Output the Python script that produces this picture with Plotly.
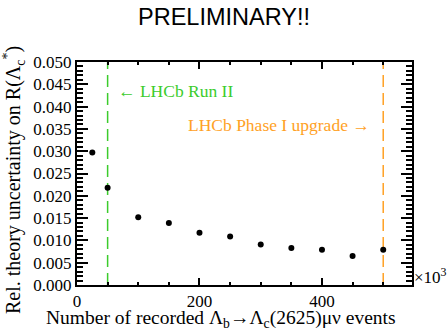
import plotly.graph_objects as go

events_k = [25, 50, 100, 150, 200, 250, 300, 350, 400, 450, 500]
rel_unc = [0.0297, 0.0218, 0.0152, 0.0139, 0.0117, 0.0109, 0.0091, 0.0083, 0.0079, 0.0065, 0.0079]
run2_x = 50
phase1_x = 500
x_ticks = [0, 200, 400]
y_ticks = [0.000, 0.005, 0.010, 0.015, 0.020, 0.025, 0.030, 0.035, 0.040, 0.045, 0.050]

GREEN = "#3ccc2c"
ORANGE = "#ffa125"
SERIF = "Liberation Serif"

W, H = 448, 331
L, R, T, B = 77, 36, 62, 46
plot_w = W - L - R
plot_h = H - T - B

fig = go.Figure()
fig.add_trace(go.Scatter(x=[run2_x, run2_x], y=[0, 0.05], mode="lines",
                         line=dict(color=GREEN, width=1.5, dash="12px,6px"),
                         showlegend=False, hoverinfo="skip"))
fig.add_trace(go.Scatter(x=[phase1_x, phase1_x], y=[0, 0.05], mode="lines",
                         line=dict(color=ORANGE, width=1.5, dash="12px,6px"),
                         showlegend=False, hoverinfo="skip"))
fig.add_trace(go.Scatter(x=events_k, y=rel_unc, mode="markers",
                         marker=dict(color="black", size=6),
                         showlegend=False))

axis_common = dict(showgrid=False, zeroline=False, showline=True, linecolor="black",
                   linewidth=2, mirror="ticks", ticks="inside", tickcolor="black",
                   tickwidth=1.5, tickfont=dict(family=SERIF, size=17, color="black"))

fig.update_xaxes(range=[0, 547], tickvals=x_ticks, ticktext=[str(v) for v in x_ticks],
                 ticklen=7,
                 minor=dict(dtick=50, tick0=0, ticklen=3, ticks="inside", tickcolor="black", tickwidth=1.5),
                 **axis_common)
fig.update_yaxes(range=[0, 0.05], tickvals=y_ticks, ticktext=[f"{v:.3f}" for v in y_ticks],
                 ticklen=11,
                 minor=dict(dtick=0.001, tick0=0, ticklen=6, ticks="inside", tickcolor="black", tickwidth=1.5),
                 **axis_common)

fig.update_layout(
    width=W, height=H,
    margin=dict(l=L, r=R, t=T, b=B),
    paper_bgcolor="white", plot_bgcolor="white",
    title=dict(text="PRELIMINARY!!", x=0.5, xanchor="center", y=1 - 17 / H, yanchor="middle",
               font=dict(family="Liberation Sans", size=23.5, color="black")),
    annotations=[
        dict(text="\u2190 LHCb Run II", x=63, y=0.0436, xref="x", yref="y",
             xanchor="left", yanchor="middle", showarrow=False,
             font=dict(family=SERIF, size=17.5, color=GREEN)),
        dict(text="LHCb Phase I upgrade \u2192", x=482, y=0.0359, xref="x", yref="y",
             xanchor="right", yanchor="middle", showarrow=False,
             font=dict(family=SERIF, size=17.5, color=ORANGE)),
        dict(text="\u00d710<sup>3</sup>", x=1.0, y=(285 - 276) / plot_h, xref="paper", yref="paper",
             xanchor="left", yanchor="middle", showarrow=False,
             font=dict(family=SERIF, size=17, color="black")),
        dict(text="Number of recorded \u039b<sub>b</sub>\u2192\u039b<sub>c</sub>(2625)\u03bc\u03bd events",
             x=(221 - L) / plot_w, y=-(318.5 - 285) / plot_h, xref="paper", yref="paper",
             yanchor="middle", xanchor="center",
             showarrow=False, font=dict(family=SERIF, size=19.5, color="black")),
        dict(text="Rel. theory uncertainty on R(\u039b<sub>c</sub><sup>*</sup>)",
             x=-(L - 14) / plot_w, y=(285 - 180) / plot_h, xref="paper", yref="paper", textangle=-90,
             xanchor="center", yanchor="middle", showarrow=False,
             font=dict(family=SERIF, size=20, color="black")),
    ],
)

fig.write_html("out.html", config={"displayModeBar": False},
               post_script="document.body.style.margin='0';")
